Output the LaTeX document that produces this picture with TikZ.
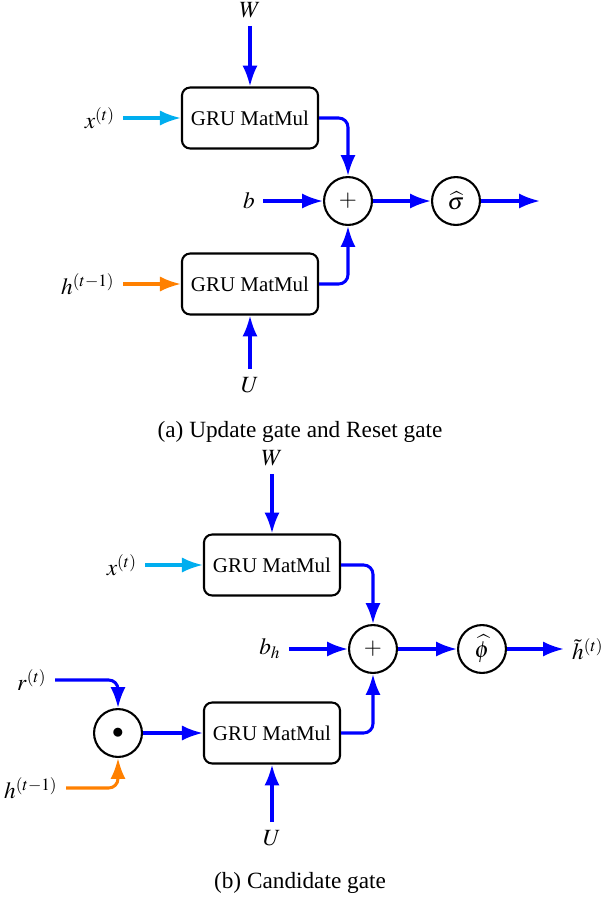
\documentclass[tikz,border=0pt]{standalone}
\usepackage{mathptmx}
\usepackage[no-math]{fontspec}
\setmainfont{Liberation Serif}
\usetikzlibrary{arrows.meta}

\definecolor{xcyan}{RGB}{0,174,239}
\definecolor{horange}{RGB}{255,128,0}

\begin{document}
\begin{tikzpicture}[
    x=0.43pt, y=-0.43pt,
    matmul/.style={draw, rectangle, rounded corners=3.5pt, line width=0.9pt, minimum width=58.5pt, minimum height=26.2pt, font=\small},
    op/.style={draw, circle, line width=0.9pt, minimum size=20.6pt, inner sep=0pt},
    arrow/.style={-{Latex[length=9pt,width=6.5pt]}, line width=1.3pt, blue},
    elbow/.style={arrow, rounded corners=4pt}
]
\useasboundingbox (0,0) rectangle (603,900);

% (a) Update gate and Reset gate
\node (W1) at (250,10) {$W$};
\node[matmul] (mmx1) at (250,118) {GRU MatMul};
\node (x1) at (100,118) {$x^{(t)}$};
\node[op] (add1) at (348,201) {$+$};
\node (b1) at (249,201) {$b$};
\node[op] (sig) at (456,201) {$\widehat{\sigma}$};
\coordinate (out1) at (540,201);
\node[matmul] (mmh1) at (250,284) {GRU MatMul};
\node (h1) at (88,284) {$h^{(t-1)}$};
\node (U1) at (250,385) {$U$};
\node (capa) at (300,432) {(a) Update gate and Reset gate};

\draw[arrow] (W1) -- (mmx1);
\draw[arrow, xcyan] (x1) -- (mmx1);
\draw[elbow] (mmx1) -| (add1);
\draw[arrow] (b1) -- (add1);
\draw[arrow] (add1) -- (sig);
\draw[arrow] (sig) -- (out1);
\draw[arrow, horange] (h1) -- (mmh1);
\draw[elbow] (mmh1) -| (add1);
\draw[arrow] (U1) -- (mmh1);

% (b) Candidate gate
\node (W2) at (272,458) {$W$};
\node[matmul] (mmx2) at (272,565) {GRU MatMul};
\node (x2) at (122,565) {$x^{(t)}$};
\node[op] (add2) at (373,649) {$+$};
\node (b2) at (270,649) {$b_h$};
\node[op] (phi) at (482,649) {$\widehat{\phi}$};
\node (ht) at (588,649) {$\tilde{h}^{(t)}$};
\node[matmul] (mmh2) at (272,733) {GRU MatMul};
\node[op] (had) at (118,733) {$\bullet$};
\node (r2) at (32,680) {$r^{(t)}$};
\node (h2) at (31,788) {$h^{(t-1)}$};
\node (U2) at (272,838) {$U$};
\node (capb) at (300,883) {(b) Candidate gate};

\draw[arrow] (W2) -- (mmx2);
\draw[arrow, xcyan] (x2) -- (mmx2);
\draw[elbow] (mmx2) -| (add2);
\draw[arrow] (b2) -- (add2);
\draw[arrow] (add2) -- (phi);
\draw[arrow] (phi) -- (ht);
\draw[elbow] (r2) -| (had);
\draw[elbow, horange] (h2) -| (had);
\draw[arrow] (had) -- (mmh2);
\draw[elbow] (mmh2) -| (add2);
\draw[arrow] (U2) -- (mmh2);

\end{tikzpicture}
\end{document}
